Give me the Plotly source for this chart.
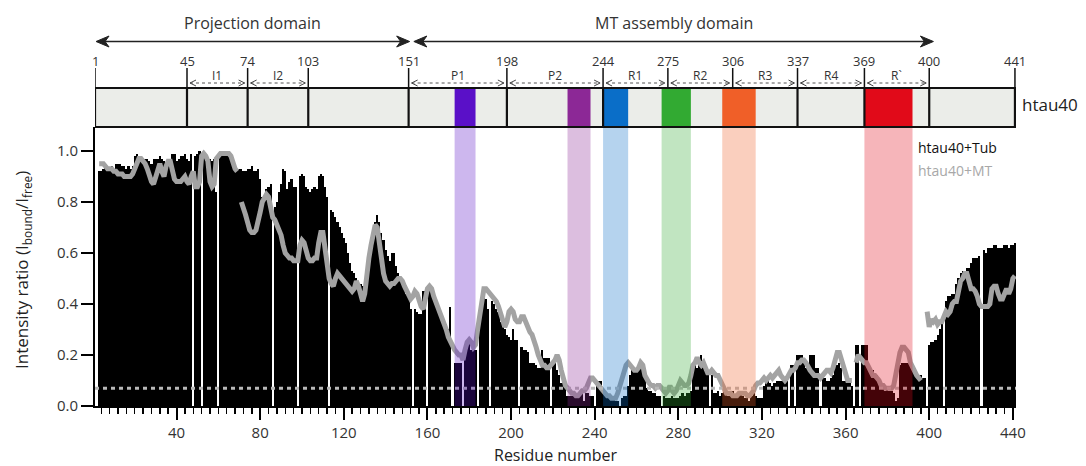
import plotly.graph_objects as go

# ---------------- data ----------------
tub = (
    [None, None, 0.92, 0.92, 0.93, 0.94, 0.93, 0.93, 0.94, 0.93]
    + [0.95, 0.95, 0.95, 0.94, 0.94, 0.93, 0.94, 0.93, 0.94, 0.98]
    + [0.99, 0.96, 0.96, 0.96, 0.97, 0.97, 0.96, 0.95, 0.97, 0.97]
    + [0.97, 0.98, 0.97, 0.96, 0.95, 0.95, 0.96, 0.99, 0.99, 0.96]
    + [0.97, 0.98, 0.98, 0.99, 0.97, 0.96, 0.99, None, 0.98, 0.99]
    + [1.0, None, 1.0, 0.97, 0.97, 0.97, 0.96, 0.97, 0.84, None]
    + [0.99, 0.99, 1.0, 0.99, 0.99, 0.98, 0.95, 0.94, 0.93, 0.93]
    + [0.93, 0.92, 0.92, 0.93, 0.93, 0.94, 0.92, 0.92, 0.93, 0.89]
    + [0.82, 0.8, 0.85, 0.86, 0.87, None, 0.78, 0.8, 0.84, 0.87]
    + [0.93, 0.92, 0.85, 0.88, 0.89, 0.86, 0.86, None, 0.9, 0.91]
    + [0.9, 0.86, 0.85, 0.84, 0.85, 0.86, 0.85, 0.9, 0.91, 0.9]
    + [0.86, 0.82, None, 0.77, 0.76, 0.74, 0.72, 0.7, 0.68, 0.66]
    + [0.64, 0.6, 0.56, 0.53, 0.52, 0.5, 0.49, 0.48, 0.47, 0.46]
    + [0.5, 0.58, 0.63, 0.68, 0.72, 0.75, 0.72, 0.68, 0.65, 0.61]
    + [0.59, 0.57, 0.6, 0.6, 0.55, 0.52, 0.49, 0.48, 0.46, 0.44]
    + [0.42, 0.38, None, 0.38, 0.37, 0.36, 0.36, 0.45, 0.45, None]
    + [0.46, 0.46, 0.44, 0.42, 0.4, 0.38, 0.36, 0.34, 0.32, 0.3]
    + [0.39, None, 0.17, 0.17, 0.17, 0.17, None, 0.22, 0.26, 0.25]
    + [0.22, 0.22, 0.22, None, 0.33, 0.44, 0.44, 0.42, 0.38, None]
    + [0.41, 0.4, 0.38, 0.37, 0.33, 0.31, 0.3, 0.28, 0.27, 0.26]
    + [0.3, 0.26, 0.26, None, 0.23, 0.22, 0.22, 0.21, 0.17, 0.17]
    + [0.17, 0.16, 0.15, 0.15, 0.22, 0.19, 0.19, 0.19, None, 0.17]
    + [0.17, 0.14, 0.12, 0.09, 0.09, 0.08, 0.04, 0.04, 0.04, 0.04]
    + [0.04, 0.04, 0.05, 0.06, 0.02, 0.05, 0.05, 0.04, 0.04, None]
    + [0.08, 0.1, 0.1, 0.07, 0.05, 0.04, 0.04, 0.04, 0.03, 0.02]
    + [0.02, None, 0.03, 0.04, 0.04, 0.08, 0.12, 0.14, 0.14, 0.15]
    + [0.14, 0.15, 0.14, 0.12, 0.07, 0.06, 0.06, 0.05, 0.05, 0.04]
    + [0.04, None, 0.04, 0.03, 0.03, 0.03, 0.04, 0.03, 0.03, 0.03]
    + [0.04, 0.05, 0.04, 0.05, 0.05, 0.06, 0.14, 0.17, 0.15, 0.16]
    + [0.2, 0.16, 0.15, 0.14, None, 0.12, 0.05, 0.05, 0.06, 0.04]
    + [0.05, 0.07, 0.05, 0.04, 0.05, 0.06, 0.04, 0.03, 0.04, 0.06]
    + [0.04, 0.03, 0.03, 0.02, 0.04, 0.06, 0.04, 0.03, 0.03, 0.03]
    + [0.08, 0.09, 0.1, 0.09, 0.08, 0.09, 0.1, 0.1, 0.1, 0.11]
    + [0.1, 0.1, None, 0.16, 0.16, None, 0.2, 0.2, 0.2, 0.19]
    + [0.15, 0.14, 0.2, 0.2, 0.2, 0.15, 0.15, None, 0.12, 0.11]
    + [0.1, 0.1, 0.11, 0.12, 0.17, 0.16, 0.17, 0.15, 0.1, 0.1]
    + [0.09, 0.1, 0.08, None, 0.24, 0.24, None, 0.24, 0.24, 0.24]
    + [0.16, 0.15, 0.14, 0.12, 0.12, 0.11, 0.07, 0.07, 0.06, 0.07]
    + [0.06, 0.06, 0.05, 0.02, 0.03, 0.16, 0.17, 0.17, 0.17, 0.17]
    + [0.16, 0.16, 0.15, 0.12, 0.12, 0.12, 0.11, 0.11, None, 0.24]
    + [0.25, 0.25, 0.26, 0.28, 0.3, 0.32, None, 0.41, 0.43, 0.43]
    + [0.44, 0.44, 0.48, 0.5, 0.52, 0.53, 0.53, 0.54, 0.54, 0.56]
    + [0.58, 0.58, 0.58, 0.59, None, 0.61, 0.6, 0.62, 0.62, 0.62]
    + [0.63, 0.63, 0.62, 0.62, 0.62, 0.63, 0.63, 0.62, 0.63, 0.63]
    + [0.64]
)

mt = (
    [None, None, 0.95, 0.95, 0.95, 0.94, 0.93, 0.93, 0.93, 0.92]
    + [0.92, 0.91, 0.91, 0.91, 0.9, 0.9, 0.9, 0.9, 0.91, 0.93]
    + [0.96, 0.97, 0.97, 0.96, 0.95, 0.93, 0.9, 0.88, 0.87, 0.9]
    + [0.92, 0.95, 0.92, 0.9, 0.94, 0.96, 0.96, 0.93, 0.89, 0.88]
    + [0.88, 0.88, 0.89, 0.9, 0.88, 0.87, 0.9, 0.92, 0.86, 0.86]
    + [0.88, 0.98, 0.99, 0.98, 0.96, 0.88, 0.86, 0.87, 0.97, 0.98]
    + [0.99, 0.99, 0.99, 0.99, 0.99, 0.98, 0.95, 0.93, 0.92, None]
    + [0.8, 0.78, 0.75, 0.72, 0.69, 0.68, 0.68, 0.69, 0.72, 0.76]
    + [0.8, 0.82, 0.83, 0.82, 0.78, 0.74, 0.73, 0.71, 0.7, 0.67]
    + [0.63, 0.6, 0.59, 0.58, 0.58, 0.57, 0.57, 0.57, 0.63, 0.65]
    + [0.64, 0.6, 0.58, 0.57, 0.57, 0.58, 0.58, 0.64, 0.68, 0.68]
    + [0.62, 0.56, 0.5, 0.48, 0.47, 0.5, 0.52, 0.51, 0.5, 0.49]
    + [0.48, 0.47, 0.46, 0.45, 0.46, 0.49, 0.47, 0.43, 0.41, 0.44]
    + [0.52, 0.58, 0.63, 0.68, 0.71, 0.7, 0.64, 0.57, 0.52, 0.49]
    + [0.48, 0.47, 0.48, 0.48, 0.49, 0.5, 0.5, 0.49, 0.47, 0.45]
    + [0.44, 0.42, 0.43, 0.45, 0.44, 0.41, 0.39, 0.38, 0.42, 0.46]
    + [0.47, 0.46, 0.43, 0.41, 0.39, 0.37, 0.35, 0.33, 0.3, 0.27]
    + [0.25, 0.23, 0.22, 0.21, 0.2, 0.2, 0.18, 0.22, 0.25, 0.26]
    + [0.25, 0.23, 0.24, 0.3, 0.36, 0.42, 0.46, 0.46, 0.45, 0.44]
    + [0.43, 0.42, 0.41, 0.39, 0.36, 0.33, 0.31, 0.33, 0.37, 0.38]
    + [0.37, 0.34, 0.33, 0.33, 0.35, 0.35, 0.33, 0.3, 0.29, 0.28]
    + [0.26, 0.23, 0.2, 0.18, 0.16, 0.16, 0.15, 0.15, 0.16, 0.17]
    + [0.18, 0.2, 0.18, 0.14, 0.1, 0.08, 0.07, 0.06, 0.05, 0.05]
    + [0.04, 0.04, 0.05, 0.06, 0.06, 0.07, 0.09, 0.11, 0.11, 0.1]
    + [0.09, 0.08, 0.07, 0.06, 0.05, 0.04, 0.04, 0.03, 0.03, 0.03]
    + [0.05, 0.08, 0.11, 0.14, 0.16, 0.17, 0.16, 0.15, 0.14, 0.14]
    + [0.15, 0.17, 0.16, 0.12, 0.1, 0.09, 0.08, 0.08, 0.07, 0.08]
    + [0.08, 0.07, 0.06, 0.05, 0.06, 0.08, 0.06, 0.05, 0.06, 0.08]
    + [0.1, 0.09, 0.08, 0.08, 0.09, 0.12, 0.16, 0.17, 0.19, 0.17]
    + [0.16, 0.17, 0.15, 0.13, 0.13, 0.14, 0.13, 0.12, 0.12, 0.1]
    + [0.08, 0.06, 0.05, 0.05, 0.05, 0.04, 0.04, 0.04, 0.05, 0.05]
    + [0.05, 0.05, 0.04, 0.04, 0.05, 0.06, 0.08, 0.09, 0.09, 0.1]
    + [0.11, 0.1, 0.11, 0.12, 0.11, 0.12, 0.13, 0.14, 0.12, 0.11]
    + [0.1, 0.11, 0.13, 0.14, 0.14, 0.15, 0.17, 0.17, 0.18, 0.18]
    + [0.17, 0.15, 0.14, 0.13, 0.12, 0.12, 0.12, 0.11, 0.12, 0.13]
    + [0.14, 0.14, 0.13, 0.15, 0.18, 0.21, 0.21, 0.18, 0.15, 0.12]
    + [0.1, 0.1, 0.1, None, 0.17, 0.2, 0.19, 0.18, 0.17, 0.17]
    + [0.15, 0.13, 0.12, 0.12, 0.11, 0.1, 0.08, 0.08, 0.07, 0.07]
    + [0.07, 0.07, 0.08, 0.12, 0.18, 0.21, 0.23, 0.23, 0.22, 0.21]
    + [0.17, 0.15, 0.13, 0.12, 0.11, 0.1, None, None, 0.37, 0.31]
    + [0.34, 0.33, 0.34, 0.32, 0.33, 0.33, 0.35, 0.37, 0.36, 0.37]
    + [0.4, 0.41, 0.41, 0.46, 0.49, 0.5, 0.52, 0.52, 0.49, 0.46]
    + [0.46, 0.45, 0.43, 0.4, 0.39, 0.39, 0.39, 0.39, 0.4, 0.46]
    + [0.47, 0.47, 0.44, 0.42, 0.42, 0.44, 0.46, 0.44, 0.46, 0.5]
    + [0.51]
)

residues = list(range(1, len(tub) + 1))
mt_residues = list(range(1, len(mt) + 1))

threshold = 0.07

boundaries = [1, 45, 74, 103, 151, 198, 244, 275, 306, 337, 369, 400, 441]
box_lines = [45, 74, 103, 151, 198, 244, 337, 369, 400]
seg_names = ["I1", "I2", "P1", "P2", "R1", "R2", "R3", "R4", "R`"]
seg_starts = [45, 74, 151, 198, 244, 275, 306, 337, 369]
seg_ends = [74, 103, 198, 244, 275, 306, 337, 369, 400]

hl_starts = [173, 227, 244, 272, 301, 369]
hl_ends = [183, 238, 256, 286, 317, 392]
hl_colors = ["#5a10c8", "#8c2896", "#0a6ec8", "#32aa32", "#f05f28", "#e10a19"]

domain_names = ["Projection domain", "MT assembly domain"]
domain_starts = [1.5, 153.5]
domain_ends = [151.5, 402]

# ---------------- figure ----------------
FONT = "Open Sans"
W, H = 1086, 466
ML, MR, MT_, MB = 95, 70, 127, 60
PH = H - MT_ - MB
X_RANGE = [1, 441.5]
PXR = (W - ML - MR) / (X_RANGE[1] - X_RANGE[0])   # pixels per residue


def yp(py):
    return (H - MB - py) / PH


def dx(px):
    return px / PXR


def dy(px):
    return px / PH


fig = go.Figure()
fig.add_trace(go.Bar(x=residues, y=tub, marker=dict(color="black", line=dict(width=0)),
                     name="htau40+Tub", showlegend=False, hoverinfo="skip"))
fig.add_trace(go.Scatter(x=mt_residues, y=mt, mode="lines", connectgaps=False,
                         line=dict(color="#a3a3a3", width=5), name="htau40+MT",
                         showlegend=False, hoverinfo="skip"))

shapes = []
shapes.append(dict(type="line", xref="paper", yref="y", x0=0, x1=1, y0=threshold, y1=threshold,
                   line=dict(color="#b8b8b8", width=3, dash="4px,4px"), layer="above"))
for s, e, c in zip(hl_starts, hl_ends, hl_colors):
    shapes.append(dict(type="rect", xref="x", yref="paper", x0=s, x1=e, y0=0, y1=1,
                       fillcolor=c, opacity=0.3, line=dict(width=0), layer="above"))
box_top = yp(88)
shapes.append(dict(type="rect", xref="x", yref="paper", x0=boundaries[0], x1=boundaries[-1],
                   y0=1.0, y1=box_top, fillcolor="#ebede9", line=dict(width=0), layer="above"))
for s, e, c in zip(hl_starts, hl_ends, hl_colors):
    shapes.append(dict(type="rect", xref="x", yref="paper", x0=s, x1=e, y0=1.0, y1=box_top,
                       fillcolor=c, line=dict(width=0), layer="above"))
shapes.append(dict(type="rect", xref="x", yref="paper", x0=boundaries[0], x1=boundaries[-1],
                   y0=1.0, y1=box_top, line=dict(color="#111", width=2.2), layer="above"))
for b in box_lines:
    shapes.append(dict(type="line", xref="x", yref="paper", x0=b, x1=b, y0=1.0, y1=box_top,
                       line=dict(color="#111", width=2.2), layer="above"))
for b in boundaries:
    shapes.append(dict(type="line", xref="x", yref="paper", x0=b, x1=b, y0=box_top, y1=yp(68),
                       line=dict(color="#111", width=1.5), layer="above"))

# dotted double arrows for the sub-regions
ya = yp(83)
for s, e in zip(seg_starts, seg_ends):
    a, b = s + dx(3), e - dx(3)
    shapes.append(dict(type="line", xref="x", yref="paper", x0=a, x1=b, y0=ya, y1=ya,
                       line=dict(color="#555", width=1, dash="dot"), layer="above"))
    for tip, sgn in ((a, 1), (b, -1)):
        path = (f"M {tip + sgn * dx(6)},{ya + dy(3)} L {tip},{ya} "
                f"L {tip + sgn * dx(6)},{ya - dy(3)}")
        shapes.append(dict(type="path", xref="x", yref="paper", path=path,
                           line=dict(color="#444", width=1), layer="above"))

# solid double arrows for the two domains
yb = yp(41.5)
for s, e in zip(domain_starts, domain_ends):
    shapes.append(dict(type="line", xref="x", yref="paper", x0=s + dx(6), x1=e - dx(6),
                       y0=yb, y1=yb, line=dict(color="#222", width=1.5), layer="above"))
    for tip, sgn in ((s, 1), (e, -1)):
        path = (f"M {tip},{yb} L {tip + sgn * dx(13)},{yb + dy(5.5)} "
                f"L {tip + sgn * dx(9)},{yb} L {tip + sgn * dx(13)},{yb - dy(5.5)} Z")
        shapes.append(dict(type="path", xref="x", yref="paper", path=path,
                           fillcolor="#222", line=dict(color="#222", width=1), layer="above"))
fig.update_layout(shapes=shapes)

ann = []
for b in boundaries:
    ann.append(dict(x=b, y=yp(61), xref="x", yref="paper", text=str(b), showarrow=False,
                    font=dict(family=FONT, size=13, color="#333"), xanchor="center",
                    yanchor="middle"))
for n, s, e in zip(seg_names, seg_starts, seg_ends):
    ann.append(dict(x=(s + e) / 2, y=yp(75), xref="x", yref="paper", text=n, showarrow=False,
                    font=dict(family=FONT, size=12, color="#333"), xanchor="center",
                    yanchor="middle"))
for n, s, e in zip(domain_names, domain_starts, domain_ends):
    ann.append(dict(x=(s + e) / 2, y=yp(23), xref="x", yref="paper", text=n, showarrow=False,
                    font=dict(family=FONT, size=16, color="#333"), xanchor="center",
                    yanchor="middle"))
ann.append(dict(x=(1020 - ML) / (W - ML - MR), y=yp(104), xref="paper", yref="paper",
                text="htau40", showarrow=False, xanchor="left", yanchor="middle",
                font=dict(family=FONT, size=17, color="#222")))
ann.append(dict(x=393.5, y=1.012, xref="x", yref="y", text="htau40+Tub", showarrow=False,
                xanchor="left", yanchor="middle", font=dict(family=FONT, size=14, color="#111")))
ann.append(dict(x=393.5, y=0.922, xref="x", yref="y", text="htau40+MT", showarrow=False,
                xanchor="left", yanchor="middle", font=dict(family=FONT, size=14, color="#a8a8a8")))
ann.append(dict(x=(22 - ML) / (W - ML - MR), y=yp(270), xref="paper", yref="paper",
                text="Intensity ratio (I<sub>bound</sub>/I<sub>free</sub>)", showarrow=False,
                textangle=-90, xanchor="center", yanchor="middle",
                font=dict(family=FONT, size=17, color="#222")))
ann.append(dict(x=(555 - ML) / (W - ML - MR), y=yp(455), xref="paper", yref="paper",
                text="Residue number", showarrow=False, xanchor="center", yanchor="middle",
                font=dict(family=FONT, size=16, color="#222")))

fig.update_layout(
    annotations=ann,
    width=W, height=H,
    margin=dict(l=ML, r=MR, t=MT_, b=MB, pad=0),
    paper_bgcolor="white", plot_bgcolor="white",
    bargap=0, showlegend=False, hovermode=False,
    font=dict(family=FONT, size=15, color="#333"),
    xaxis=dict(range=X_RANGE, showgrid=False, zeroline=False, showline=True,
               linecolor="black", linewidth=2, ticks="outside", ticklen=12, tickwidth=2,
               tickcolor="black", tick0=0, dtick=40,
               tickfont=dict(family=FONT, size=15, color="#333"),
               minor=dict(dtick=4, tick0=0, ticks="outside", ticklen=6, tickwidth=1.5,
                          tickcolor="black", showgrid=False)),
    yaxis=dict(range=[0, 1.094], showgrid=False, zeroline=False, showline=True,
               linecolor="black", linewidth=2, ticks="outside", ticklen=12, tickwidth=2,
               tickcolor="black", dtick=0.2, tickformat=".1f",
               tickfont=dict(family=FONT, size=15, color="#333")),
)

fig.write_html("out.html", config={"displayModeBar": False, "staticPlot": True})

# remove the default page margin so the figure sits at the window's top-left corner
with open("out.html", "r", encoding="utf-8") as f:
    html = f.read()
html = html.replace("<head>", "<head><style>html,body{margin:0;padding:0;overflow:hidden;}</style>", 1)
with open("out.html", "w", encoding="utf-8") as f:
    f.write(html)
